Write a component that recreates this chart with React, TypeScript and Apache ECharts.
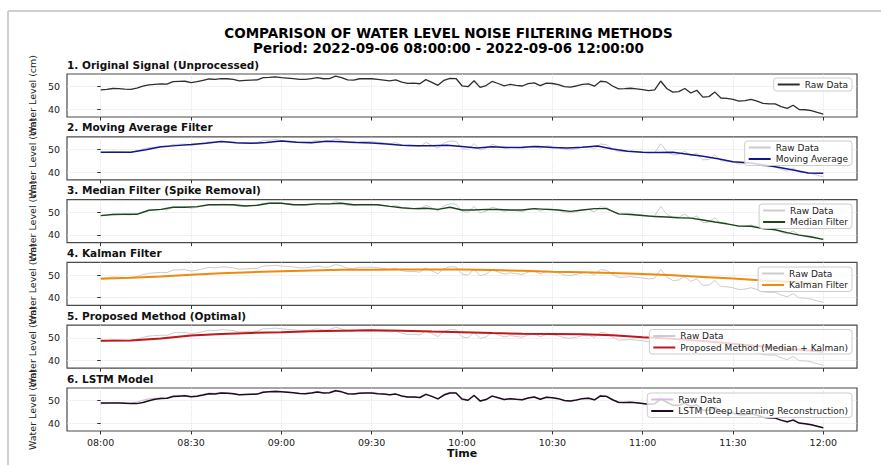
import React, { useEffect, useRef } from 'react';
import * as echarts from 'echarts';

// ---- axis ticks ----
const TICK_MINUTES = [0, 30, 60, 90, 120, 150, 180, 210, 240];
const TICK_LABELS = ['08:00', '08:30', '09:00', '09:30', '10:00', '10:30', '11:00', '11:30', '12:00'];
const Y_TICKS = [40, 50];

// ---- data (minutes after 08:00, sampled every STEP minutes) ----
const RAW_STEP = 2;
const rawLevel = [
  48.6, 48.8, 49.2, 49.1, 48.9, 48.8, 49.4, 50.2, 50.8, 51.0,
  51.2, 51.1, 52.2, 52.3, 52.4, 51.8, 52.2, 52.8, 53.4, 53.2,
  53.6, 53.5, 53.2, 52.6, 52.8, 52.9, 53.0, 54.0, 54.1, 54.3,
  54.0, 53.8, 53.6, 53.2, 53.2, 53.6, 54.0, 53.5, 53.6, 54.7,
  54.0, 53.0, 52.9, 53.5, 53.5, 53.5, 53.2, 52.9, 52.6, 53.0,
  52.0, 51.5, 51.6, 51.3, 53.1, 51.9, 50.6, 52.8, 53.7, 53.6,
  50.4, 50.0, 52.6, 49.7, 50.5, 52.3, 51.4, 50.4, 51.0, 50.6,
  50.3, 51.3, 51.7, 50.5, 51.6, 51.4, 50.9, 50.0, 49.8, 50.3,
  51.0, 51.2, 50.2, 52.4, 52.1, 50.3, 49.0, 49.1, 49.3, 49.0,
  48.7, 48.3, 48.6, 52.5, 49.2, 47.6, 47.8, 49.2, 47.2, 48.4,
  45.4, 45.6, 47.6, 45.0, 44.8, 44.4, 43.6, 43.8, 44.4, 43.6,
  42.6, 42.4, 42.4, 41.2, 40.4, 41.8, 39.9, 39.8, 39.4, 38.6,
  37.9,
];

const MA_STEP = 5;
const movingAvgLevel = [
  48.8, 48.8, 48.8, 49.9, 51.2, 51.7, 52.2, 52.8, 53.5, 53.0,
  52.7, 53.1, 53.7, 53.2, 53.0, 53.6, 53.4, 53.1, 52.9, 52.4,
  51.9, 51.7, 51.7, 51.9, 51.3, 50.7, 51.2, 50.9, 51.0, 51.3,
  50.9, 50.7, 51.0, 51.5, 50.2, 49.2, 48.8, 48.7, 48.8, 47.9,
  47.0, 45.9, 44.6, 44.1, 43.2, 42.1, 40.9, 39.6, 39.5,
];

const MEDIAN_STEP = 4;
const medianLevel = [
  48.5, 49.0, 49.1, 49.1, 50.9, 51.3, 52.2, 52.2, 52.5, 53.3,
  53.4, 53.3, 52.8, 53.1, 54.0, 54.0, 53.3, 53.3, 53.7, 53.7,
  54.0, 53.3, 53.3, 53.3, 52.6, 52.0, 51.6, 51.8, 51.3, 52.2,
  51.0, 51.0, 51.3, 51.2, 51.0, 51.0, 51.6, 51.3, 51.0, 50.4,
  51.0, 51.6, 51.6, 49.3, 49.0, 48.6, 48.1, 47.9, 47.6, 47.4,
  46.6, 45.7, 44.9, 43.9, 43.8, 42.8, 42.3, 41.0, 39.9, 39.1,
  38.0,
];

const KALMAN_STEP = 10;
const kalmanLevel = [
  48.4, 48.8, 49.4, 50.1, 50.8, 51.3, 51.7, 52.0, 52.3, 52.4,
  52.5, 52.5, 52.5, 52.2, 51.9, 51.5, 51.2, 50.9, 50.5, 49.9,
  49.2, 48.5, 47.6, 46.9, 46.2,
];

const PROPOSED_STEP = 10;
const proposedLevel = [
  48.7, 48.8, 49.7, 51.0, 51.7, 52.2, 52.5, 52.9, 53.2, 53.4,
  53.2, 52.8, 52.5, 52.1, 51.8, 51.7, 51.6, 51.2, 50.3, 49.6,
  48.6, 47.4, 46.2, 45.0, 43.9,
];

const LSTM_STEP = 2;
const lstmLevel = [
  49.0, 49.0, 49.0, 49.0, 48.9, 48.8, 48.7, 49.2, 50.0, 50.6,
  51.0, 51.1, 51.8, 52.0, 52.2, 51.7, 52.0, 52.5, 53.1, 53.0,
  53.4, 53.3, 53.1, 52.6, 52.7, 52.8, 52.9, 53.7, 53.9, 54.1,
  53.9, 53.7, 53.5, 53.2, 53.1, 53.4, 53.8, 53.4, 53.5, 54.4,
  53.9, 53.1, 52.9, 53.3, 53.4, 53.4, 53.1, 52.9, 52.6, 52.9,
  52.1, 51.6, 51.6, 51.4, 52.8, 51.9, 50.8, 52.5, 53.4, 53.4,
  50.7, 50.2, 52.3, 49.9, 50.5, 52.0, 51.3, 50.5, 50.9, 50.6,
  50.4, 51.2, 51.6, 50.6, 51.5, 51.3, 50.9, 50.1, 49.9, 50.3,
  50.9, 51.1, 50.4, 52.1, 51.9, 50.4, 49.3, 49.2, 49.3, 49.1,
  48.8, 48.4, 48.6, 50.8, 49.3, 48.0, 48.0, 48.8, 47.5, 48.1,
  45.9, 45.8, 47.0, 45.3, 44.9, 44.5, 43.8, 43.8, 44.2, 43.6,
  42.7, 42.5, 42.3, 41.4, 40.7, 41.4, 40.1, 39.8, 39.4, 38.7,
  38.0,
];

const PANEL_TITLES = [
  '1. Original Signal (Unprocessed)',
  '2. Moving Average Filter',
  '3. Median Filter (Spike Removal)',
  '4. Kalman Filter',
  '5. Proposed Method (Optimal)',
  '6. LSTM Model',
];

const MAIN_TITLE = 'COMPARISON OF WATER LEVEL NOISE FILTERING METHODS';
const SUB_TITLE = 'Period: 2022-09-06 08:00:00 - 2022-09-06 12:00:00';
const Y_NAME = 'Water Level (cm)';
const X_NAME = 'Time';

// ---- layout ----
const FONT = 'DejaVu Sans';
const GRID_LEFT = 67;
const GRID_WIDTH = 790;
const GRID_HEIGHT = 43;
const GRID_TOPS = [74, 136.8, 199.6, 262.4, 325.2, 388];
const LEGEND_TOPS = [78, 141, 204, 267, 329.5, 393];
const X_MIN = -11.2;
const X_MAX = 251.2;
const Y_MIN = 36.6;
const Y_MAX = 55.6;

const toPairs = (arr: number[], step: number) => arr.map((v, i) => [i * step, v]);

type S = { name: string; data: number[][]; color: string; width: number };

const RAW_LIGHT = '#cccccc';

const panels: S[][] = [
  [{ name: 'Raw Data|1', data: toPairs(rawLevel, RAW_STEP), color: '#2e2e2e', width: 1.3 }],
  [
    { name: 'Raw Data|2', data: toPairs(rawLevel, RAW_STEP), color: RAW_LIGHT, width: 1 },
    { name: 'Moving Average|2', data: toPairs(movingAvgLevel, MA_STEP), color: '#14148c', width: 1.5 },
  ],
  [
    { name: 'Raw Data|3', data: toPairs(rawLevel, RAW_STEP), color: RAW_LIGHT, width: 1 },
    { name: 'Median Filter|3', data: toPairs(medianLevel, MEDIAN_STEP), color: '#1f451f', width: 1.4 },
  ],
  [
    { name: 'Raw Data|4', data: toPairs(rawLevel, RAW_STEP), color: RAW_LIGHT, width: 1 },
    { name: 'Kalman Filter|4', data: toPairs(kalmanLevel, KALMAN_STEP), color: '#f08a0e', width: 2 },
  ],
  [
    { name: 'Raw Data|5', data: toPairs(rawLevel, RAW_STEP), color: RAW_LIGHT, width: 1 },
    { name: 'Proposed Method (Median + Kalman)|5', data: toPairs(proposedLevel, PROPOSED_STEP), color: '#c0161c', width: 2 },
  ],
  [
    { name: 'Raw Data|6', data: toPairs(rawLevel, RAW_STEP), color: '#dcbadf', width: 1.2 },
    { name: 'LSTM (Deep Learning Reconstruction)|6', data: toPairs(lstmLevel, LSTM_STEP), color: '#1c0e1c', width: 1.5 },
  ],
];

function buildOption() {
  const grid = GRID_TOPS.map((top) => ({
    left: GRID_LEFT,
    top,
    width: GRID_WIDTH,
    height: GRID_HEIGHT,
    show: true,
    borderColor: '#4a4a4a',
    borderWidth: 1.2,
    backgroundColor: '#fff',
    outerBoundsMode: 'none',
    containLabel: false,
  }));

  const xAxis = GRID_TOPS.map((_, i) => ({
    type: 'value',
    gridIndex: i,
    min: X_MIN,
    max: X_MAX,
    axisLine: { show: false },
    axisTick: { show: true, length: 3.5, lineStyle: { color: '#333', width: 1 }, customValues: TICK_MINUTES },
    splitLine: { show: true, lineStyle: { color: '#dedede', type: 'dotted', width: 0.8 } },
    axisLabel: {
      show: i === 5,
      customValues: TICK_MINUTES,
      formatter: (v: number) => TICK_LABELS[TICK_MINUTES.indexOf(Math.round(v))] ?? '',
      color: '#222',
      fontSize: 9.5,
      fontFamily: FONT,
      margin: 6,
    },
    name: i === 5 ? X_NAME : '',
    nameLocation: 'middle',
    nameGap: 17,
    nameTextStyle: { fontFamily: FONT, fontWeight: 'bold', fontSize: 11, color: '#111' },
  }));

  const yAxis = GRID_TOPS.map((_, i) => ({
    type: 'value',
    gridIndex: i,
    min: Y_MIN,
    max: Y_MAX,
    axisLine: { show: false },
    axisTick: { show: true, length: 3.5, lineStyle: { color: '#333', width: 1 }, customValues: Y_TICKS },
    splitLine: { show: true, lineStyle: { color: '#dedede', type: 'dotted', width: 0.8 } },
    axisLabel: {
      customValues: Y_TICKS,
      color: '#222',
      fontSize: 9.5,
      fontFamily: FONT,
      margin: 7,
    },
    name: Y_NAME,
    nameLocation: 'middle',
    nameRotate: 90,
    nameGap: 24,
    nameTextStyle: { fontFamily: FONT, fontSize: 9.5, color: '#222' },
  }));

  const series: any[] = [];
  panels.forEach((list, i) => {
    list.forEach((s, j) => {
      series.push({
        type: 'line',
        name: s.name,
        xAxisIndex: i,
        yAxisIndex: i,
        data: s.data,
        symbol: 'none',
        smooth: false,
        z: 2 + j,
        lineStyle: { color: s.color, width: s.width },
        itemStyle: { color: s.color },
        silent: true,
      });
    });
  });

  const legend = panels.map((list, i) => ({
    data: list.map((s) => s.name),
    orient: 'vertical',
    right: 29,
    top: LEGEND_TOPS[i],
    backgroundColor: 'rgba(255,255,255,0.8)',
    borderColor: '#cccccc',
    borderWidth: 1,
    borderRadius: 3,
    padding: [2, 4, 2, 4],
    itemGap: 2.5,
    itemWidth: 22,
    itemHeight: 2,
    icon: 'rect',
    selectedMode: false,
    formatter: (name: string) => name.split('|')[0],
    textStyle: { fontFamily: FONT, fontSize: 9, color: '#222' },
  }));

  const title: any[] = [
    {
      text: MAIN_TITLE,
      left: 448.5,
      top: 26,
      textAlign: 'center',
      padding: 0,
      textStyle: { fontFamily: FONT, fontWeight: 'bold', fontSize: 13.5, color: '#000' },
    },
    {
      text: SUB_TITLE,
      left: 448.5,
      top: 41,
      textAlign: 'center',
      padding: 0,
      textStyle: { fontFamily: FONT, fontWeight: 'bold', fontSize: 13.5, color: '#000' },
    },
    ...PANEL_TITLES.map((t, i) => ({
      text: t,
      left: GRID_LEFT,
      top: GRID_TOPS[i] - 15,
      padding: 0,
      textStyle: { fontFamily: FONT, fontWeight: 'bold', fontSize: 10.5, color: '#111' },
    })),
  ];

  return {
    animation: false,
    backgroundColor: '#fff',
    textStyle: { fontFamily: FONT },
    title,
    grid,
    xAxis,
    yAxis,
    legend,
    series,
    graphic: [
      { type: 'line', shape: { x1: 8, y1: 11, x2: 8, y2: 470 }, style: { stroke: '#cfcfcf', lineWidth: 2 }, silent: true },
      { type: 'line', shape: { x1: 8, y1: 11, x2: 881, y2: 11 }, style: { stroke: '#cfcfcf', lineWidth: 2 }, silent: true },
    ],
  };
}

export default function App() {
  const ref = useRef<HTMLDivElement>(null);
  useEffect(() => {
    if (!ref.current) return;
    const chart = echarts.init(ref.current, null, { renderer: 'svg' });
    chart.setOption(buildOption() as any);
    return () => chart.dispose();
  }, []);
  return (
    <div
      ref={ref}
      style={{ position: 'fixed', left: 0, top: 0, width: 881, height: 465, background: '#fff' }}
    />
  );
}
